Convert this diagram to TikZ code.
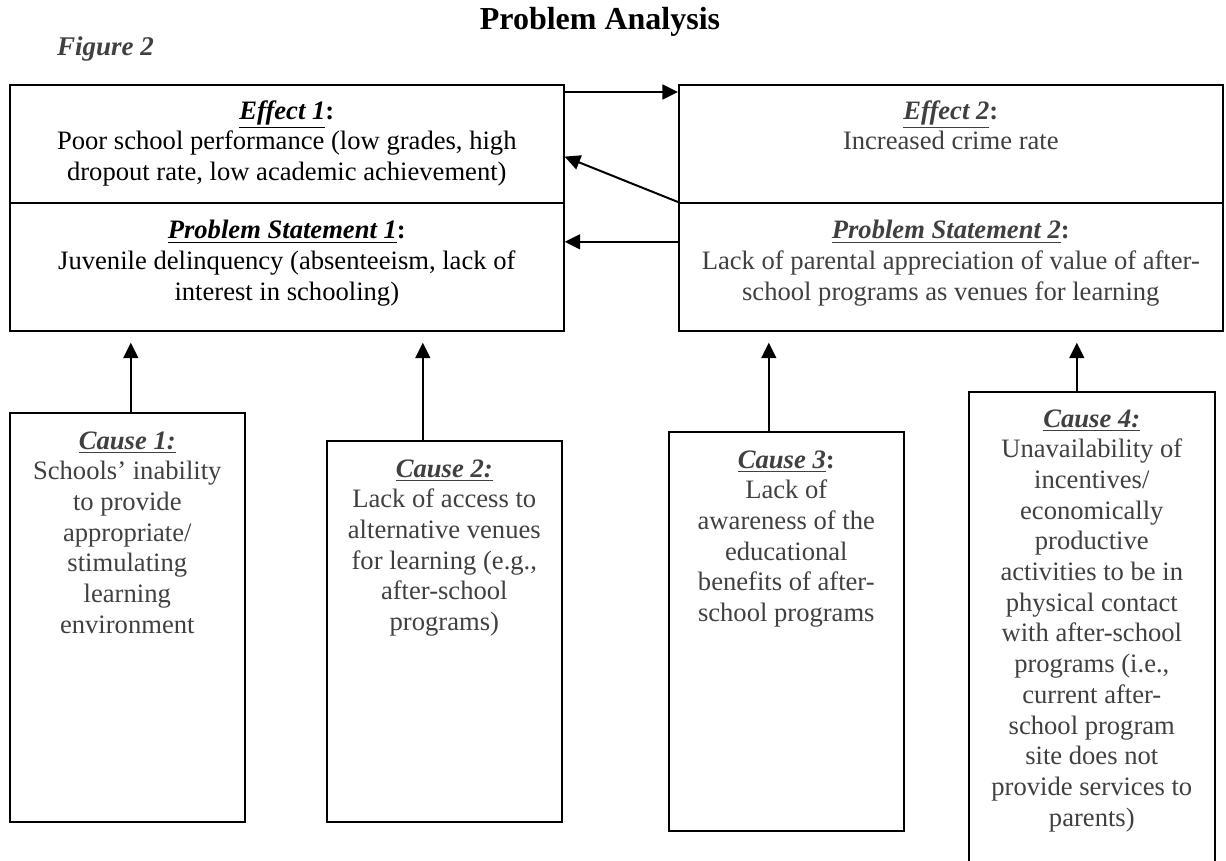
\documentclass[tikz,border=0pt]{standalone}
\usepackage{fontspec}
\setmainfont{Liberation Serif}
\usetikzlibrary{positioning,arrows.meta}
\definecolor{txtgray}{HTML}{404040}
\newcommand{\head}[1]{\underline{\textbf{\textit{#1}}}}

\begin{document}
\begin{tikzpicture}[x=0.5pt, y=-0.5pt,
                    box/.style={rectangle, draw=black, line width=0.8pt, anchor=north west, inner sep=0pt},
                    txt/.style={align=center, inner sep=0pt, font=\fontsize{13.3}{15.35}\selectfont},
                    arr/.style={-{Triangle[length=7.8pt,width=7.4pt]}, line width=1pt},]
    \useasboundingbox (0,0) rectangle (1226,861);
    % titles
    \node[font=\bfseries\fontsize{16}{18}\selectfont] (title) at (600,22) {Problem Analysis};
    \node[anchor=west, text=txtgray, font=\bfseries\itshape\fontsize{13.5}{15}\selectfont] (fig) at (50,49) {Figure 2};
    % boxes
    \node[box, minimum width=277pt, minimum height=59pt]    (e1)  at (9,84)    {};
    \node[box, minimum width=277pt, minimum height=64pt]    (ps1) at (9,202)   {};
    \node[box, minimum width=272pt, minimum height=59pt]    (e2)  at (678,84)  {};
    \node[box, minimum width=272pt, minimum height=64pt]    (ps2) at (678,202) {};
    \node[box, minimum width=117.5pt, minimum height=204.5pt] (c1) at (9,412)  {};
    \node[box, minimum width=117.5pt, minimum height=190.5pt] (c2) at (326,440) {};
    \node[box, minimum width=117.5pt, minimum height=199.5pt] (c3) at (668,431) {};
    \node[box, minimum width=123pt, minimum height=245pt]     (c4) at (968,391) {};
    % texts
    \node[txt] (e1t)  [below=8pt of e1.north]  {\head{Effect 1}\textbf{:}\\Poor school performance (low grades, high\\dropout rate, low academic achievement)};
    \node[txt] (ps1t) [below=9pt of ps1.north] {\head{Problem Statement 1}\textbf{:}\\Juvenile delinquency (absenteeism, lack of\\interest in schooling)};
    \node[txt, text=txtgray] (e2t)  [below=8pt of e2.north]  {\head{Effect 2}\textbf{:}\\Increased crime rate};
    \node[txt, text=txtgray] (ps2t) [below=9pt of ps2.north] {\head{Problem Statement 2}\textbf{:}\\Lack of parental appreciation of value of after-\\school programs as venues for learning};
    \node[txt, text=txtgray] (c1t) [below=9.5pt of c1.north] {\head{Cause 1:}\\Schools’ inability\\to provide\\appropriate/\\stimulating\\learning\\environment};
    \node[txt, text=txtgray] (c2t) [below=9.5pt of c2.north] {\head{Cause 2:}\\Lack of access to\\alternative venues\\for learning (e.g.,\\after-school\\programs)};
    \node[txt, text=txtgray] (c3t) [below=9.5pt of c3.north] {\head{Cause 3}\textbf{:}\\Lack of\\awareness of the\\educational\\benefits of after-\\school programs};
    \node[txt, text=txtgray] (c4t) [below=9pt of c4.north] {\head{Cause 4:}\\Unavailability of\\incentives/\\economically\\productive\\activities to be in\\physical contact\\with after-school\\programs (i.e.,\\current after-\\school program\\site does not\\provide services to\\parents)};
    % lines
    \draw[arr] ([yshift=-4pt]e1.north east) -- ([yshift=-4pt]e1.north east -| e2.west);
    \draw[arr] (ps2.north west) -- ([yshift=23.5pt]e1.south east);
    \draw[arr] ([yshift=12.5pt]ps2.west) -- ([yshift=12.5pt]ps2.west -| ps1.east);
    \draw[arr, shorten >=5.5pt] ([xshift=1.75pt]c1.north) -- ([xshift=1.75pt]c1.north |- ps1.south);
    \draw[arr, shorten >=5.5pt] ([xshift=-10.75pt]c2.north) -- ([xshift=-10.75pt]c2.north |- ps1.south);
    \draw[arr, shorten >=5.5pt] ([xshift=-8.75pt]c3.north) -- ([xshift=-8.75pt]c3.north |- ps2.south);
    \draw[arr, shorten >=5.5pt] ([xshift=-7.5pt]c4.north) -- ([xshift=-7.5pt]c4.north |- ps2.south);
\end{tikzpicture}
\end{document}
